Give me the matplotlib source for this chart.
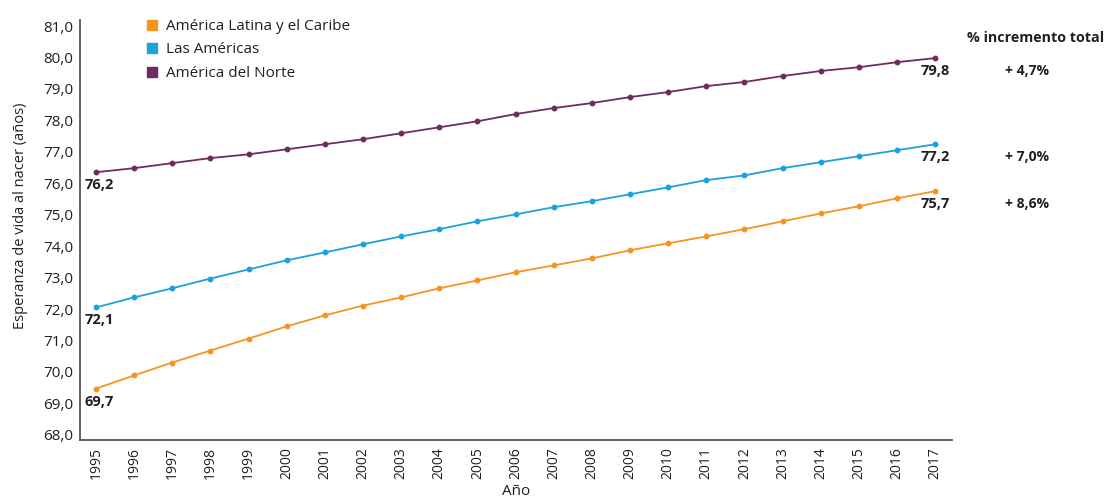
import matplotlib.pyplot as plt
from matplotlib.lines import Line2D

# =========================
# DATA
# =========================

years = list(range(1995, 2018))

latam = [69.47, 69.89, 70.30, 70.68, 71.06, 71.45, 71.80, 72.11, 72.37, 72.66,
         72.91, 73.17, 73.39, 73.61, 73.87, 74.09, 74.31, 74.54, 74.79, 75.04,
         75.27, 75.52, 75.75]
americas = [72.05, 72.37, 72.66, 72.97, 73.26, 73.55, 73.80, 74.06, 74.31, 74.54,
            74.79, 75.01, 75.24, 75.43, 75.65, 75.87, 76.10, 76.25, 76.48, 76.67,
            76.86, 77.05, 77.24]
north = [76.35, 76.48, 76.64, 76.80, 76.92, 77.08, 77.24, 77.40, 77.59, 77.78,
         77.97, 78.20, 78.39, 78.55, 78.74, 78.90, 79.09, 79.22, 79.41, 79.57,
         79.69, 79.85, 79.98]

series_names = ["América Latina y el Caribe", "Las Américas", "América del Norte"]
start_labels = ["69,7", "72,1", "76,2"]
end_labels = ["75,7", "77,2", "79,8"]
increments = ["+ 8,6%", "+ 7,0%", "+ 4,7%"]

y_ticks = [68, 69, 70, 71, 72, 73, 74, 75, 76, 77, 78, 79, 80, 81]

# =========================
# STYLE
# =========================

COLORS = ["#F7941D", "#1BA1DB", "#6B2C5F"]
TEXT = "#231F20"
plt.rcParams["font.family"] = ["Open Sans", "DejaVu Sans"]

fig = plt.figure(figsize=(11.1, 5.01), dpi=100)
ax = fig.add_axes([0.072, 0.122, 0.786, 0.838])

all_series = [latam, americas, north]
for values, color, name, s_lab, e_lab, inc in zip(
        all_series, COLORS, series_names, start_labels, end_labels, increments):
    ax.plot(years, values, color=color, lw=1.3, marker="o", ms=3.2, label=name)
    ax.annotate(s_lab, (years[0], values[0]), xytext=(3, -13),
                textcoords="offset pixels", ha="center", va="center",
                fontsize=10.5, fontweight="bold", color=TEXT)
    ax.annotate(e_lab, (years[-1], values[-1]), xytext=(0, -13),
                textcoords="offset pixels", ha="center", va="center",
                fontsize=10.5, fontweight="bold", color=TEXT)
    ax.annotate(inc, (years[-1], values[-1]), xytext=(92, -13),
                textcoords="offset pixels", ha="center", va="center",
                fontsize=10, fontweight="bold", color=TEXT,
                annotation_clip=False)

fig.text(0.9325, 0.924, "% incremento total", ha="center", va="center",
         fontsize=10.3, fontweight="bold", color=TEXT)

ax.set_xlim(1994.58, 2017.45)
ax.set_ylim(67.84, 81.19)
ax.set_xticks(years)
ax.set_xticklabels([str(y) for y in years], rotation=90, fontsize=10, color=TEXT)
ax.set_yticks(y_ticks)
ax.set_yticklabels([f"{v:.1f}".replace(".", ",") for v in y_ticks],
                   fontsize=11, color=TEXT)
ax.tick_params(length=0, pad=5)

for side in ["top", "right"]:
    ax.spines[side].set_visible(False)
for side in ["left", "bottom"]:
    ax.spines[side].set_color("#555555")
    ax.spines[side].set_linewidth(1.3)

ax.set_ylabel("Esperanza de vida al nacer (años)", fontsize=10.5, color=TEXT)
ax.yaxis.set_label_coords(-0.06, 0.535)
ax.set_xlabel("Año", fontsize=11, color=TEXT, labelpad=4)

handles = [Line2D([], [], ls="none", marker="s", ms=7.5, color=c) for c in COLORS]
ax.legend(handles, series_names, loc="upper left", bbox_to_anchor=(0.06, 1.035),
          frameon=False, fontsize=11, handlelength=0.8, handletextpad=0.5,
          labelspacing=0.55, labelcolor=TEXT)

fig.savefig("out.png", dpi=100)
